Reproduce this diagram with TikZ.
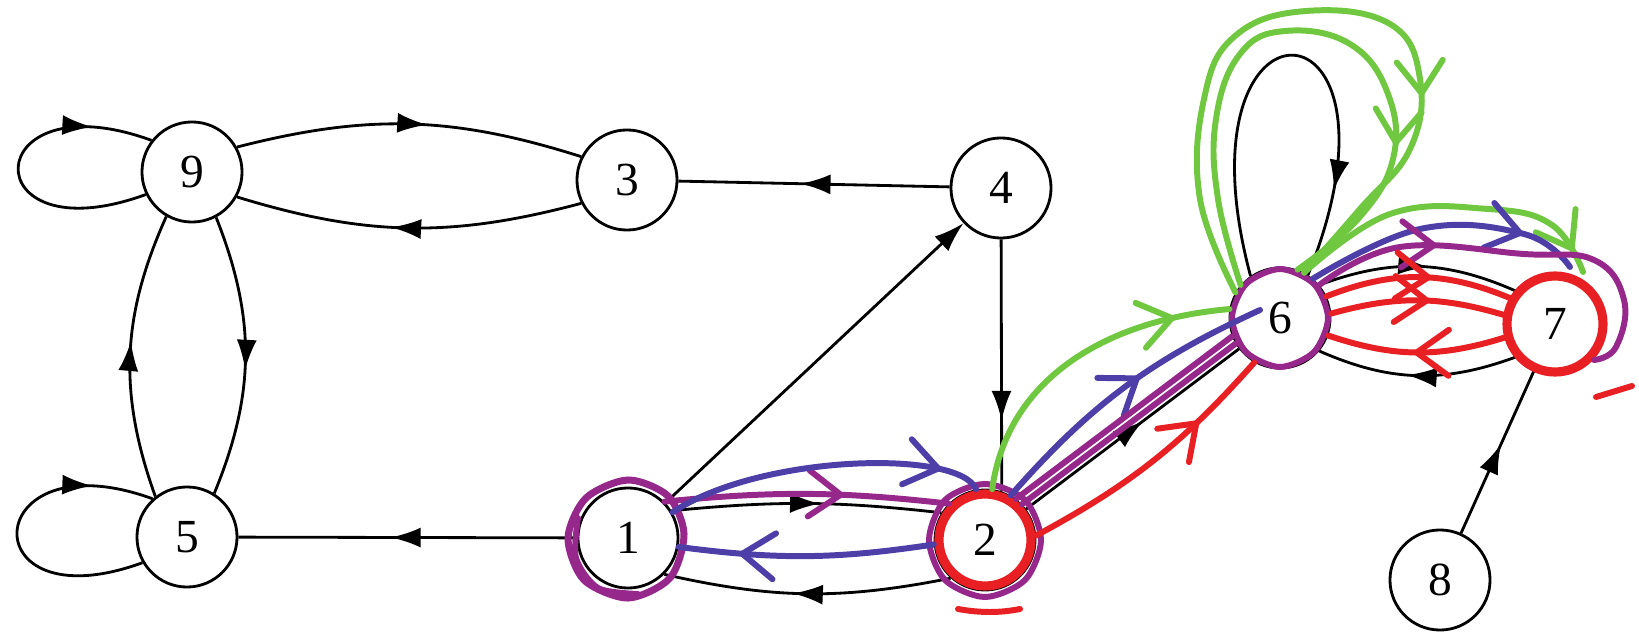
\documentclass[tikz,border=0pt]{standalone}
\usepackage{fontspec}
\setmainfont{Liberation Serif}
\usetikzlibrary{arrows.meta, decorations.markings}

\definecolor{inkred}{RGB}{232,32,36}
\definecolor{inkgreen}{RGB}{112,200,64}
\definecolor{inkblue}{RGB}{78,62,168}
\definecolor{inkmag}{RGB}{150,40,140}

\begin{document}
\begin{tikzpicture}[
    x=0.01cm, y=0.01cm,
    state/.style={circle, draw, line width=0.8pt, minimum size=10mm, inner sep=0pt, font=\fontsize{13.5}{16}\selectfont},
    link/.style={line width=0.8pt},
    midarrow/.style={postaction={decorate}, decoration={markings, mark=at position #1 with {\arrow{Latex[length=3mm,width=2mm]}}}},
    midarrow/.default=0.55,
    pen/.style={line width=1.7pt, line cap=round, line join=round},
    chev/.style={postaction={decorate}, decoration={markings, mark=at position #1 with {\draw[pen] (-3.2mm,2.3mm) -- (0,0) -- (-3.2mm,-2.3mm);}}}
]
\useasboundingbox (0,0) rectangle (1639,639);

\node[state] (n9) at (192,467) {9};
\node[state] (n3) at (627,459) {3};
\node[state] (n4) at (1001,451) {4};
\node[state] (n5) at (187,102) {5};
\node[state] (n1) at (628,101) {1};
\node[state] (n2) at (985,99) {2};
\node[state] (n6) at (1280,321) {6};
\node[state] (n7) at (1555,315) {7};
\node[state] (n8) at (1440,59) {8};

% printed graph
\draw[link, midarrow=0.8] (n9.206) to[out=200, in=160, distance=1.85cm] (n9.142);
\draw[link, midarrow=0.8] (n5.210) to[out=200, in=160, distance=1.85cm] (n5.132);
\draw[link, midarrow] (n9.29) to[bend left=16] (n3.153);
\draw[link, midarrow] (n3.207) to[bend left=16] (n9.331);
\draw[link, midarrow] (n9.298) to[bend left=22] (n5.58);
\draw[link, midarrow] (n5.128) to[bend left=22] (n9.240);
\draw[link, midarrow] (n4) -- (n3);
\draw[link, midarrow] (n1) -- (n5);
\draw[link, -{Latex[length=3mm,width=2mm]}] (n1) -- (n4);
\draw[link, midarrow=0.72] (n4) -- (n2.71);
\draw[link, midarrow] (n1.32) to[bend left=6] (n2.148);
\draw[link, midarrow] (n2.228) to[bend left=12] (n1.315);
\draw[link, midarrow] (n2) -- (n6);
\draw[link, midarrow=0.82] (n6.125) to[out=105, in=68, distance=3.1cm] (n6.57);
\draw[link, midarrow] (n6.40) to[bend left=22] (n7.140);
\draw[link, midarrow] (n7.220) to[bend left=22] (n6.320);
\draw[link, midarrow] (n8) -- (n7);

% pen marks
\draw[pen, inkmag, line width=2pt, shift={(n1)}] plot[smooth cycle] coordinates {(56,4) (40,42) (0,58) (-42,40) (-60,0) (-44,-42) (0,-60) (42,-40)};
\draw[pen, inkmag, shift={(n1)}] plot[smooth] coordinates {(-50,20) (-52,-20) (-30,-50) (10,-56)};
\draw[pen, inkmag, shift={(n2)}] plot[smooth cycle] coordinates {(56,0) (40,40) (0,56) (-40,40) (-56,0) (-40,-40) (0,-57) (40,-40)};
\draw[pen, inkred, line width=2.6pt] (n2) circle [radius=46];
\draw[pen, inkred] (958,30) .. controls (980,26) and (1000,26) .. (1020,30);
\draw[pen, inkmag, shift={(n6)}] plot[smooth cycle] coordinates {(48,0) (34,34) (0,49) (-34,34) (-48,0) (-34,-34) (0,-49) (34,-34)};
\draw[pen, inkred, line width=2.6pt] (n7) circle [radius=48];
\draw[pen, inkred] (1596,242) -- (1632,253);

\draw[pen, inkmag, chev=0.62] (n1.45) to[bend left=6] (n2.135);
\draw[pen, inkblue, chev=0.86] (n1.30) .. controls (760,185) and (960,190) .. (n2.100);
\draw[pen, inkblue, chev=0.75] (n2.185) to[bend left=8] (n1.350);

\draw[pen, inkgreen, chev=0.82] (n2.82) to[out=82, in=185] (n6.170);
\draw[pen, inkblue, chev=0.55] (n2.60) to[bend left=12] ([shift={(-20,8)}]n6.center);
\draw[pen, inkmag] (n2.44) -- (n6.210);
\draw[pen, inkmag] (n2.53) -- (n6.201);
\draw[pen, inkred, chev=0.7] (n2.5) to[bend right=10] (n6.240);

\draw[pen, inkgreen, chev=0.7] plot[smooth, tension=0.7] coordinates {(n6.150) (1200,440) (1204,540) (1235,603) (1306,628) (1390,615) (1420,560) (1410,490) (1360,430) (n6.62)};
\draw[pen, inkgreen, chev=0.74] plot[smooth, tension=0.7] coordinates {(n6.140) (1218,440) (1216,520) (1240,585) (1285,608) (1350,595) (1388,545) (1393,480) (1358,420) (n6.70)};
\draw[pen, inkgreen, chev=0.92] plot[smooth, tension=0.7] coordinates {(n6.62) (1390,425) (1488,430) (1552,414) (1583,367)};
\draw[pen, inkblue, chev=0.78] plot[smooth, tension=0.7] coordinates {(n6.50) (1420,410) (1524,405) (1570,372)};
\draw[pen, inkmag, chev=0.3] plot[smooth, tension=0.7] coordinates {(n6.40) (1400,392) (1524,385) (1594,379) (1624,339) (1616,292) (1594,279)};
\draw[pen, inkred, chev=0.55] (n6.25) to[bend left=22] (n7.150);
\draw[pen, inkred, chev=0.55] (n6.5) to[bend left=16] (n7.170);
\draw[pen, inkred, chev=0.5] (n7.195) to[bend left=18] (n6.340);
\end{tikzpicture}
\end{document}
